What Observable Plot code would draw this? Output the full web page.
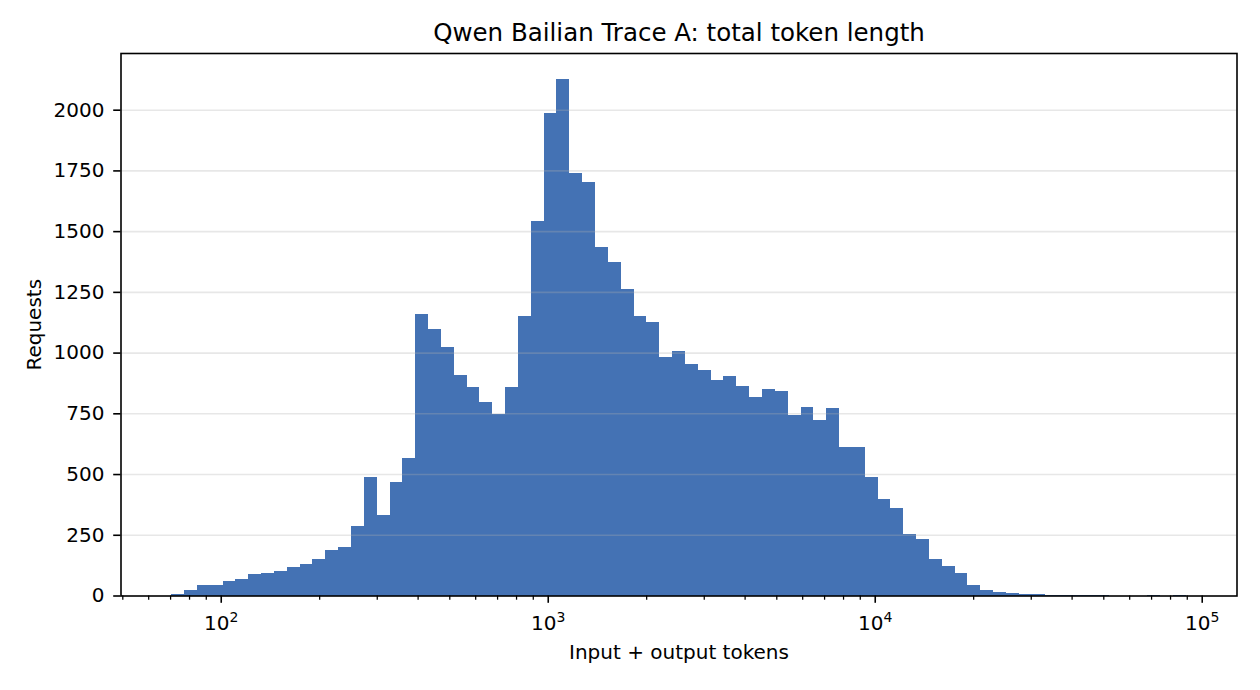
<!DOCTYPE html>
<html>
<head>
<meta charset="utf-8">
<script src="https://cdn.jsdelivr.net/npm/d3@7"></script>
<script src="https://cdn.jsdelivr.net/npm/@observablehq/plot@0.6"></script>
<style>
  html, body { margin: 0; padding: 0; background: #fff; }
</style>
</head>
<body>
<div id="chart"></div>
<script>
// Histogram: 79 log-spaced bins from 10^1.8486 to 10^4.9512 tokens
const binLogMin = 1.8486;
const binLogMax = 4.9512;
const counts = [
  5, 23, 43, 44, 60, 68, 88, 93, 101, 117,
  130, 150, 187, 200, 286, 488, 331, 467, 566, 1159,
  1097, 1023, 908, 859, 797, 747, 857, 1151, 1542, 1987,
  2127, 1740, 1703, 1435, 1374, 1262, 1151, 1126, 982, 1007,
  953, 929, 887, 904, 863, 818, 850, 842, 743, 776,
  723, 772, 612, 612, 488, 397, 360, 253, 233, 150,
  121, 93, 43, 23, 15, 10, 7, 5, 3, 2,
  1, 1, 1, 0, 0, 0, 1, 0, 1
];
const xMajorTicks = [1e2, 1e3, 1e4, 1e5];
const xMajorLabels = ["10²", "10³", "10⁴", "10⁵"];
const xMajorExponents = ["2", "3", "4", "5"];
const xMinorTicks = [
  50, 60, 70, 80, 90,
  200, 300, 400, 500, 600, 700, 800, 900,
  2000, 3000, 4000, 5000, 6000, 7000, 8000, 9000,
  20000, 30000, 40000, 50000, 60000, 70000, 80000, 90000
];
const yTicks = [0, 250, 500, 750, 1000, 1250, 1500, 1750, 2000];
const titleText = "Qwen Bailian Trace A: total token length";
const xLabelText = "Input + output tokens";
const yLabelText = "Requests";

const nBins = counts.length;
const step = (binLogMax - binLogMin) / nBins;
const bins = counts.map((c, i) => ({
  x1: Math.pow(10, binLogMin + i * step),
  x2: Math.pow(10, binLogMin + (i + 1) * step),
  count: c
}));
const pad = 0.05 * (binLogMax - binLogMin);
const xDomain = [Math.pow(10, binLogMin - pad), Math.pow(10, binLogMax + pad)];
const yDomain = [0, d3.max(counts) * 1.05];

const font = "DejaVu Sans, Liberation Sans, sans-serif";

const chart = Plot.plot({
  width: 1260,
  height: 690,
  marginLeft: 120.5,
  marginRight: 23.5,
  marginTop: 53,
  marginBottom: 94.5,
  style: { fontFamily: font, fontSize: "20px", background: "white", color: "black" },
  x: { type: "log", domain: xDomain },
  y: { domain: yDomain },
  marks: [
    Plot.rectY(bins, {
      x1: "x1", x2: "x2", y: "count",
      fill: "#4472b4", inset: 0, shapeRendering: "crispEdges"
    }),
    Plot.ruleY(yTicks.filter(t => t > 0), {
      stroke: "#b0b0b0", strokeOpacity: 0.3, strokeWidth: 1.6
    }),
    Plot.axisX(xMinorTicks, {
      tickSize: 4.2, strokeWidth: 1.25, tickFormat: () => "", label: null, stroke: "black"
    }),
    Plot.axisX(xMajorTicks, {
      tickSize: 7.3, strokeWidth: 1.6, tickPadding: 12.5, fontSize: 20,
      tickFormat: (d) => xMajorLabels[xMajorTicks.indexOf(d)], label: null, stroke: "black", fill: "black"
    }),
    Plot.axisY(yTicks, {
      tickSize: 7.3, strokeWidth: 1.6, tickPadding: 9.3, fontSize: 20,
      tickFormat: (d) => String(d), label: null, stroke: "black", fill: "black"
    }),
    Plot.frame({ stroke: "black", strokeWidth: 1.6 }),
    Plot.text([titleText], {
      frameAnchor: "top", dy: -20.3, text: d => d, fontSize: 24.5, fill: "black",
      textAnchor: "middle", lineAnchor: "middle"
    }),
    Plot.text([xLabelText], {
      frameAnchor: "bottom", dy: 56.1, text: d => d, fontSize: 20, fill: "black",
      textAnchor: "middle", lineAnchor: "middle"
    }),
    Plot.text([yLabelText], {
      frameAnchor: "left", dx: -86.5, rotate: -90, text: d => d, fontSize: 20, fill: "black",
      textAnchor: "middle", lineAnchor: "middle"
    })
  ]
});

// Render the decade labels as "10" with a raised, smaller exponent (like mathtext)
const SVGNS = "http://www.w3.org/2000/svg";
chart.querySelectorAll("text").forEach((t) => {
  const idx = xMajorLabels.indexOf(t.textContent);
  if (idx < 0) return;
  while (t.firstChild) t.removeChild(t.firstChild);
  const base = document.createElementNS(SVGNS, "tspan");
  base.textContent = "10";
  const sup = document.createElementNS(SVGNS, "tspan");
  sup.textContent = xMajorExponents[idx];
  sup.setAttribute("font-size", "14px");
  sup.setAttribute("dy", "-8.3");
  t.appendChild(base);
  t.appendChild(sup);
});

document.getElementById("chart").appendChild(chart);
</script>
</body>
</html>
